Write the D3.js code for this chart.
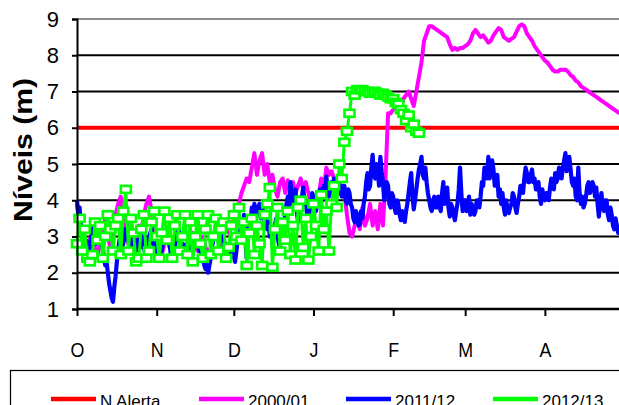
<!DOCTYPE html>
<html><head><meta charset="utf-8">
<script src="https://cdn.jsdelivr.net/npm/d3@7"></script>
<style>body{margin:0;background:#fff} svg{display:block;font-family:"Liberation Sans",Arial,sans-serif}</style>
</head><body><svg id="c" width="619" height="405"></svg>
<script>
// ---- data ----
const months = ["O","N","D","J","F","M","A"];
const monthStarts = [0,31,61,92,123,151,182]; // day index from 1 Oct
const yTicks = [1,2,3,4,5,6,7,8,9];
const alertLevel = 6;
const seriesNames = ["N Alerta","2000/01","2011/12","2012/13"];
const seriesColors = ["#ff0000","#ff00ff","#0000ff","#00ff00"];

// 2000/01: daily levels (m), day 0 = 1 Oct
const s2000 = [
3.9,3.4,3.0,2.8,2.6,2.9,3.2,2.7,2.5,2.8,
3.1,3.5,3.0,2.7,3.2,3.6,3.9,4.1,3.5,3.0,
2.8,2.6,2.5,2.9,3.3,3.1,3.6,3.9,4.1,3.7,
3.2,2.9,2.6,2.5,2.8,3.0,2.7,2.6,2.9,3.2,
3.0,2.7,2.5,2.6,2.9,3.1,2.8,2.6,2.8,3.0,
2.7,2.5,2.7,3.0,3.2,2.9,2.7,3.0,3.3,3.1,
3.4,3.3,3.7,3.9,4.2,4.4,4.6,4.5,4.9,5.3,
4.7,5.1,5.3,4.7,5.0,4.5,4.7,4.3,4.1,4.5,
4.6,4.2,4.55,4.3,4.5,4.2,4.4,4.6,4.3,4.5,
4.2,3.9,4.0,3.8,4.1,4.6,4.3,4.9,4.7,4.8,
4.6,4.5,4.3,4.4,4.2,3.6,3.1,3.0,3.3,3.6,
3.2,3.8,3.3,3.5,3.9,3.3,3.7,3.2,3.9,3.3,
4.6,6.4,6.4,6.5,6.6,6.7,6.6,6.8,6.9,7.0,
6.8,6.6,7.0,7.4,7.8,8.4,8.6,8.8,8.8,8.75,
8.7,8.65,8.6,8.55,8.5,8.3,8.15,8.2,8.15,8.2,
8.2,8.25,8.3,8.4,8.6,8.7,8.6,8.5,8.55,8.45,
8.35,8.4,8.55,8.65,8.75,8.7,8.5,8.45,8.4,8.45,
8.5,8.65,8.8,8.85,8.8,8.6,8.5,8.4,8.25,8.15,
8.05,7.95,7.85,7.8,7.7,7.6,7.55,7.55,7.6,7.6,
7.6,7.55,7.45,7.4,7.3,7.25,7.15,7.1,7.05,7.0,
6.95,6.9,6.85,6.8,6.75,6.7,6.65,6.6,6.55,6.5,6.45,6.4];

// 2011/12: 12-hourly levels (m), index 0 = 1 Oct
const s2011 = [
4.0,3.6, 3.8,3.3, 3.0,2.6, 2.5,2.9, 2.8,2.4, 2.6,3.0, 2.9,3.3, 3.2,2.8, 2.9,3.2, 3.1,2.8,
2.7,2.4, 2.2,2.3, 2.0,1.7, 1.5,1.3, 1.2,1.6, 1.9,2.3, 2.6,2.9, 3.0,2.7, 2.8,3.2, 3.1,2.9,
3.3,3.1, 3.0,2.7, 2.8,2.9, 2.6,2.8, 2.9,3.2, 3.1,2.7, 2.8,2.5, 2.6,3.0, 2.9,3.1, 3.2,2.8,
2.9,2.6, 2.7,2.4, 2.5,2.7, 2.6,2.9, 2.9,3.2, 3.1,2.9, 2.8,2.5, 2.4,2.7, 2.6,3.0, 2.9,3.2,
3.1,2.7, 2.8,2.5, 2.6,2.8, 2.5,2.4, 2.7,2.9, 2.55,2.7, 2.8,3.1, 3.0,2.6, 2.7,2.5, 2.4,2.2,
2.1,2.3, 2.0,2.2, 2.4,2.7, 2.9,3.1, 3.2,3.0, 3.45,3.2, 3.3,3.4, 3.0,2.7, 2.8,2.5, 2.6,2.8,
2.5,2.7, 2.45,2.3, 2.6,2.9, 3.0,3.2, 3.3,3.1, 3.6,2.9, 2.4,3.0, 3.5,3.3, 3.8,3.5, 3.9,3.7,
3.6,3.8, 3.9,3.5, 3.7,3.8, 3.4,3.6, 3.2,3.4, 3.0,3.2, 2.8,3.0, 3.3,3.5, 3.0,2.8, 2.7,3.0,
3.2,3.4, 3.6,3.9, 4.1,3.8, 4.5,4.2, 3.9,4.2, 4.3,3.7, 3.4,3.6, 3.8,4.1, 4.35,3.9, 4.0,3.6,
3.5,3.7, 3.8,4.2, 4.1,3.8, 3.7,4.0, 3.9,4.3, 4.2,4.0, 4.4,4.2, 4.65,4.3, 4.1,4.4, 4.5,4.2,
4.6,4.3, 4.2,4.6, 4.5,4.2, 4.1,4.4, 4.4,4.0, 3.9,4.3, 4.2,3.9, 3.8,3.5, 3.4,3.7, 3.6,3.3,
3.35,3.7, 3.5,3.9, 4.1,4.5, 4.75,4.3, 4.4,4.9, 5.25,4.7, 4.6,5.0, 4.8,4.4, 5.2,4.8, 4.5,4.0,
4.2,4.5, 4.4,3.9, 3.8,4.2, 4.1,3.8, 3.65,4.0, 3.9,3.6, 3.45,3.7, 3.6,3.4, 3.7,3.9, 4.2,4.5,
4.75,4.1, 3.75,4.0, 4.3,4.6, 4.85,5.0, 5.2,4.7, 4.6,4.9, 4.5,4.2, 4.0,3.8, 3.7,4.0, 4.1,3.8,
3.8,4.1, 3.9,3.7, 4.2,4.5, 3.9,4.1, 4.35,3.8, 3.55,3.9, 3.8,3.6, 3.45,3.7, 3.9,4.3, 4.9,4.2,
3.7,3.95, 4.0,3.7, 3.9,4.1, 3.6,3.9, 3.8,3.6, 3.7,4.0, 4.0,3.8, 4.1,4.5, 4.4,4.9, 4.8,4.6,
5.2,4.6, 4.7,5.1, 4.85,4.4, 4.5,4.7, 4.1,4.3, 3.9,4.2, 3.8,3.6, 4.0,3.7, 3.65,3.8, 3.9,4.2,
4.1,3.8, 3.65,3.9, 4.1,4.4, 4.4,4.2, 4.6,4.9, 4.75,4.5, 4.5,4.7, 4.85,4.5, 4.6,4.3, 4.3,4.5,
4.1,3.9, 4.3,4.1, 4.0,4.2, 4.2,4.0, 4.35,4.6, 4.5,4.3, 4.75,4.5, 4.6,4.9, 4.85,4.6, 4.9,5.1,
5.3,4.8, 5.0,5.2, 4.85,4.5, 4.4,4.6, 4.1,4.0, 4.9,4.2, 3.9,4.1, 3.8,3.9, 4.1,4.4, 4.5,4.2,
4.3,4.5, 4.4,4.1, 4.35,3.9, 3.55,3.9, 4.2,3.8, 3.7,4.0, 4.0,3.6, 3.45,3.8, 3.6,3.3, 3.2,3.5, 3.3,3.1, 3.15];
const s2011Step = 0.5; // days between readings

// 2012/13: daily levels (m), day 0 = 1 Oct
const s2012 = [
2.8,3.5,2.6,3.2,2.4,2.3,2.5,3.4,2.9,3.3,
2.4,3.0,3.6,3.2,2.6,3.3,3.5,2.5,3.7,4.3,
2.6,3.5,3.1,2.3,2.4,3.2,3.6,2.4,2.6,3.4,
3.7,3.0,2.4,3.1,3.7,2.9,3.5,2.4,3.3,3.6,
2.6,3.0,3.6,2.5,3.4,2.3,3.0,3.6,2.8,2.4,
3.2,3.6,2.5,3.0,3.5,2.6,3.2,3.4,2.4,2.7,
3.3,3.6,3.0,3.8,2.9,3.4,2.2,3.1,3.5,2.5,
3.3,2.8,2.2,3.6,3.9,4.35,2.15,3.2,3.8,2.6,
3.4,2.9,3.7,2.5,3.3,2.35,3.8,4.0,2.7,3.5,
2.35,3.0,3.9,3.3,2.6,4.15,3.2,3.7,2.6,3.9,
4.4,3.8,5.0,4.6,5.6,5.9,6.4,7.0,6.9,7.05,
7.05,7.05,7.0,7.0,6.95,7.0,7.0,6.95,6.9,6.95,
6.9,6.85,6.8,6.8,6.7,6.65,6.5,6.4,6.2,6.35,
6.0,6.1,5.9,5.85];

// ---- chart ----
const svg = d3.select("#c");
const x = d3.scaleLinear().domain([0,212]).range([77,622]);
const y = d3.scaleLinear().domain([1,9]).range([309,19]);

// gridlines
svg.append("g").selectAll("line").data(yTicks.filter(v=>v>1)).join("line")
  .attr("x1",77).attr("x2",619).attr("y1",d=>y(d)).attr("y2",d=>y(d))
  .attr("stroke",d=>d===9?"#8c8c8c":"#000").attr("stroke-width",2);

// alert line
svg.append("line").attr("x1",x(0)).attr("x2",619)
  .attr("y1",y(alertLevel)).attr("y2",y(alertLevel))
  .attr("stroke",seriesColors[0]).attr("stroke-width",4);

const daily = d3.line().x((d,i)=>x(i)).y(d=>y(d));
const halfDaily = d3.line().x((d,i)=>x(i*s2011Step)).y(d=>y(d));
svg.append("path").datum(s2000).attr("d",daily).attr("fill","none")
  .attr("stroke",seriesColors[1]).attr("stroke-width",4).attr("stroke-linejoin","round");
svg.append("path").datum(s2011).attr("d",halfDaily).attr("fill","none")
  .attr("stroke",seriesColors[2]).attr("stroke-width",4.2).attr("stroke-linejoin","round");
svg.append("path").datum(s2012).attr("d",daily).attr("fill","none")
  .attr("stroke",seriesColors[3]).attr("stroke-width",3).attr("stroke-linejoin","round");
svg.append("g").selectAll("rect").data(s2012).join("rect")
  .attr("x",(d,i)=>x(i)-5).attr("y",d=>y(d)-3.5).attr("width",10).attr("height",7)
  .attr("fill","#fff").attr("stroke",seriesColors[3]).attr("stroke-width",2.6);

// axes
const yAxis = svg.append("g").attr("transform","translate(77,0)")
  .call(d3.axisLeft(y).tickValues(yTicks).tickSize(5).tickPadding(13).tickFormat(d3.format("d")));
yAxis.select(".domain").attr("stroke","#000").attr("stroke-width",2);
yAxis.selectAll(".tick line").attr("stroke","#000").attr("stroke-width",2);
yAxis.selectAll("text").attr("font-size",22).attr("fill","#000")
  .attr("font-family","'Liberation Sans',Arial,sans-serif");

const xAxis = svg.append("g").attr("transform","translate(0,309)")
  .call(d3.axisBottom(x).tickValues(monthStarts).tickSize(7).tickPadding(26)
    .tickFormat((d,i)=>months[i]));
xAxis.select(".domain").remove();
xAxis.append("line").attr("x1",77).attr("x2",619).attr("stroke","#000").attr("stroke-width",2.5);
xAxis.selectAll(".tick line").attr("stroke","#000").attr("stroke-width",2);
xAxis.selectAll("text").attr("font-size",21).attr("fill","#000")
  .attr("transform","scale(0.85,1)")
  .attr("font-family","'Liberation Sans',Arial,sans-serif");

// y title
svg.append("text").attr("transform","translate(32,150) rotate(-90)")
  .attr("text-anchor","middle").attr("font-weight","bold").attr("font-size",25)
  .attr("textLength",144).attr("lengthAdjust","spacingAndGlyphs")
  .text("Níveis (m)");

// legend
svg.append("rect").attr("x",10.5).attr("y",370.5).attr("width",700).attr("height",100)
  .attr("fill","none").attr("stroke","#000").attr("stroke-width",1.2);
const legX = [51,199,346,493];
const leg = svg.append("g").selectAll("g").data(seriesNames).join("g")
  .attr("transform",(d,i)=>`translate(${legX[i]},399)`);
leg.append("line").attr("x1",0).attr("x2",45).attr("stroke",(d,i)=>seriesColors[i]).attr("stroke-width",4.5);
leg.append("text").attr("x",49).attr("y",8).attr("font-size",17).text(d=>d);
</script>
</body></html>
